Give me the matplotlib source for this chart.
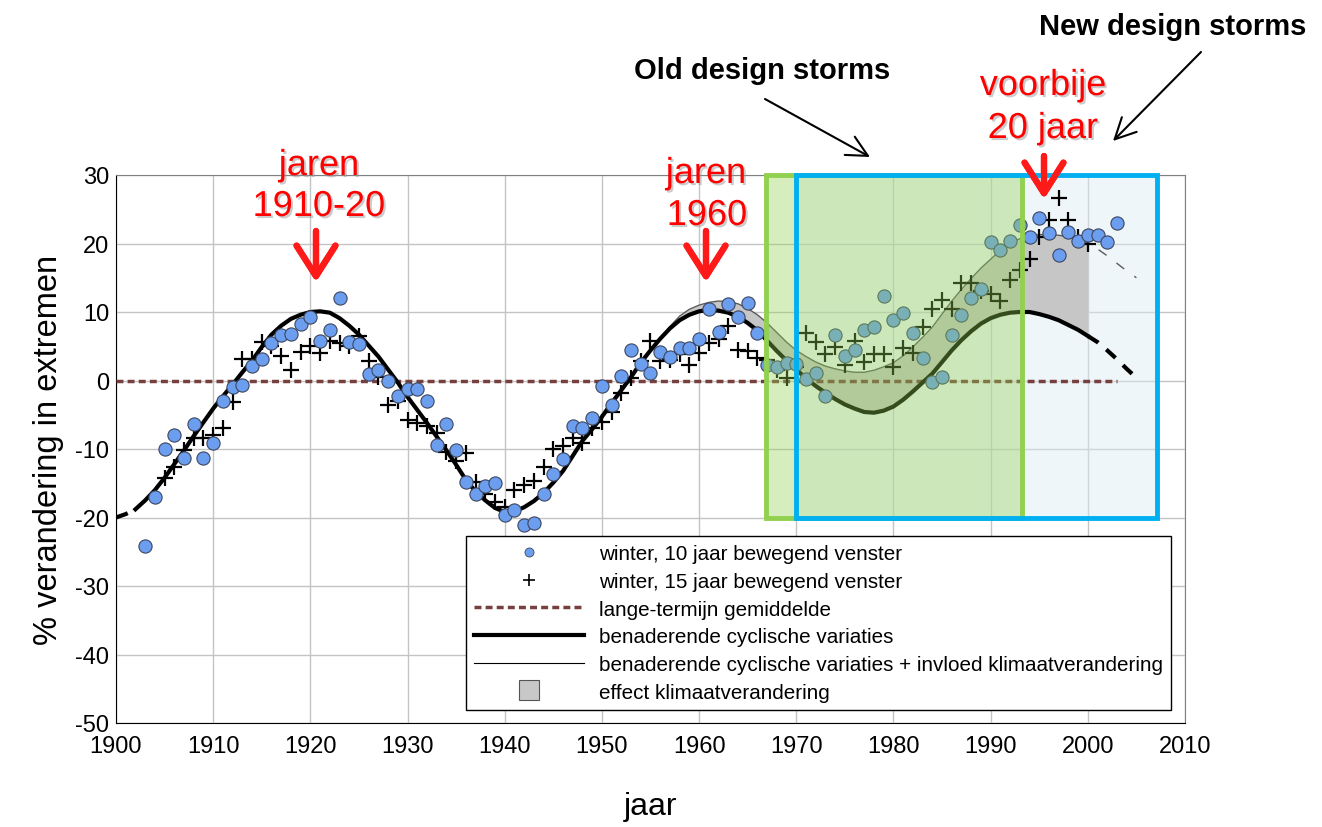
import matplotlib.pyplot as plt
import matplotlib.patheffects as pe
from matplotlib.lines import Line2D
from matplotlib.patches import Rectangle
import numpy as np

plt.rcParams['font.family'] = ['Liberation Sans', 'DejaVu Sans']
plt.rcParams['axes.unicode_minus'] = False

W, H = 1322, 828

# winter, 10 jaar bewegend venster (1903-2003)
jaar10 = np.arange(1903, 2004)
winter10 = [-24.2, -17.0, -10.0, -7.9, -11.3, -6.4, -11.3, -9.1, -3.0, -0.9,
            -0.7, 2.1, 3.2, 5.5, 6.7, 6.8, 8.3, 9.2, 5.8, 7.4,
            12.1, 5.6, 5.4, 0.9, 1.6, -0.1, -2.2, -1.2, -1.3, -3.0,
            -9.4, -6.3, -10.2, -14.8, -16.5, -15.4, -14.9, -19.7, -18.9, -21.1,
            -20.8, -16.6, -13.6, -11.5, -6.7, -6.9, -5.5, -0.8, -3.6, 0.6,
            4.5, 2.4, 1.1, 4.1, 3.5, 4.8, 4.7, 6.0, 10.4, 7.1,
            11.1, 9.2, 11.3, 6.9, 2.3, 1.9, 2.6, 2.4, 0.2, 1.1,
            -2.2, 6.6, 3.6, 4.5, 7.3, 7.8, 12.4, 8.8, 9.9, 6.9,
            3.3, -0.2, 0.5, 6.6, 9.6, 12.0, 13.4, 20.2, 19.1, 20.3,
            22.7, 21.0, 23.7, 21.6, 18.3, 21.7, 20.3, 21.2, 21.3, 20.2,
            23.0]

# winter, 15 jaar bewegend venster (1905-2000)
jaar15 = np.arange(1905, 2001)
winter15 = [-14.2, -12.6, -10.2, -8.4, -8.4, -8.0, -7.0, -3.2, 3.1, 3.2,
            5.6, 5.0, 3.6, 1.6, 4.1, 5.0, 4.0, 5.8, 5.5, 5.0,
            6.5, 2.8, 0.5, -3.6, -3.0, -5.8, -6.2, -6.7, -7.7, -10.5,
            -11.8, -10.6, -14.8, -16.6, -17.8, -18.5, -16.0, -15.2, -14.7, -12.6,
            -10.0, -9.6, -8.4, -9.1, -7.0, -6.0, -4.6, -1.8, 0.4, 2.8,
            5.8, 2.9, 3.0, 3.8, 2.3, 4.0, 5.5, 6.0, 7.9, 4.5,
            4.3, 3.3, 3.0, 1.5, 0.4, 2.0, 6.9, 5.6, 3.9, 4.9,
            2.3, 5.7, 2.7, 3.8, 3.8, 2.0, 4.8, 4.0, 7.8, 10.5,
            11.7, 10.5, 14.2, 14.2, 13.0, 12.7, 11.6, 14.6, 16.2, 17.7,
            21.0, 23.4, 26.6, 23.5, 21.0, 19.9]

# benaderende cyclische variaties (1900-2005)
cyc_jaar = np.arange(1900, 2006)
cyclisch = np.array([
    -20.0, -19.5, -18.8, -17.5, -16.0, -14.2, -12.2, -10.2, -8.1, -6.1,
    -4.1, -2.3, -0.6, 1.2, 2.9, 4.9, 6.7, 8.0, 9.0, 9.6,
    10.0, 10.1, 9.9, 9.1, 8.0, 6.7, 5.1, 3.5, 1.6, -0.3,
    -2.4, -4.3, -6.2, -8.2, -10.2, -12.3, -14.5, -16.2, -17.5, -18.6,
    -19.2, -19.1, -18.5, -17.6, -16.4, -14.9, -13.2, -11.0, -8.8, -7.1,
    -5.3, -3.3, -1.4, 0.5, 2.6, 4.4, 6.1, 7.6, 8.8, 9.6,
    10.1, 10.3, 10.2, 9.9, 9.3, 8.4, 7.3, 5.8, 4.3, 2.9,
    1.6, 0.3, -0.8, -1.8, -2.7, -3.5, -4.1, -4.6, -4.7, -4.4,
    -3.8, -2.8, -1.6, -0.3, 1.0, 2.7, 4.4, 5.9, 7.2, 8.3,
    9.1, 9.6, 9.9, 10.0, 10.0, 9.7, 9.3, 8.8, 8.1, 7.4,
    6.5, 5.6, 4.4, 3.1, 1.7, 0.4])

# cyclische variaties + invloed klimaatverandering (1956-2005)
kl_jaar = np.arange(1956, 2006)
klimaat = np.array([
    6.1, 7.9, 9.4, 10.4, 11.0, 11.4, 11.6, 11.5, 11.2, 10.5,
    9.6, 8.4, 7.0, 5.6, 4.4, 3.5, 2.7, 2.1, 1.7, 1.4,
    1.2, 1.2, 1.5, 2.0, 2.6, 3.6, 4.9, 6.3, 7.8, 9.7,
    11.6, 13.3, 14.9, 16.4, 17.7, 19.0, 20.0, 20.7, 21.1, 21.3,
    21.3, 21.2, 21.0, 20.6, 20.0, 19.2, 18.2, 17.1, 16.0, 15.0])

fig = plt.figure(figsize=(W / 100, H / 100), dpi=100)
ax = fig.add_axes([116 / W, 1 - 724 / H, 1069 / W, 548 / H])

ax.set_xlim(1900, 2010)
ax.set_ylim(-50, 30)
ax.set_xticks(np.arange(1900, 2011, 10))
ax.set_yticks(np.arange(-50, 31, 10))
ax.grid(color='#c4c4c4', lw=1)
ax.set_axisbelow(True)
ax.tick_params(length=0, labelsize=17)
ax.tick_params(axis='x', pad=9)
ax.tick_params(axis='y', pad=5)
for s in ax.spines.values():
    s.set_color('#808080')
ax.spines['left'].set_color('black')
ax.spines['bottom'].set_color('black')

# blauw kader (nieuwe ontwerpstormen)
ax.add_patch(Rectangle((1970, -20), 37.1, 50, facecolor='#dcecf3', alpha=0.45,
                       edgecolor='none', zorder=1))

# effect klimaatverandering
lo = cyclisch[cyc_jaar >= 1956]
band = kl_jaar <= 2000
ax.fill_between(kl_jaar[band], lo[band], klimaat[band], color='#c6c6c6',
                lw=0, zorder=2)

# lange-termijn gemiddelde
ax.plot([1900, 2003], [0, 0], color='#77403f', lw=2.5, ls=(0, (2.0, 1.2)),
        zorder=3)

# cyclische variaties: doorgetrokken + gestippelde uiteinden
sol = (cyc_jaar >= 1902) & (cyc_jaar <= 2000)
ax.plot(cyc_jaar[sol], cyclisch[sol], color='black', lw=3, zorder=3.5)
ax.plot(cyc_jaar[cyc_jaar <= 1902], cyclisch[cyc_jaar <= 1902], color='black',
        lw=3, ls=(0, (3, 2.5)), zorder=3.5)
ax.plot(cyc_jaar[cyc_jaar >= 2000], cyclisch[cyc_jaar >= 2000], color='black',
        lw=3, ls=(0, (3, 2.5)), zorder=3.5)

ax.plot(kl_jaar[band], klimaat[band], color='#5a5a5a', lw=1, zorder=3.4)
ax.plot(kl_jaar[kl_jaar >= 2000], klimaat[kl_jaar >= 2000], color='#5a5a5a',
        lw=1, ls=(7, (7, 9)), zorder=3.4)

# meetpunten
ax.plot(jaar15, winter15, ls='none', marker='+', ms=11, mew=1.6,
        color='black', zorder=4)
ax.plot(jaar10, winter10, ls='none', marker='o', ms=9.5, mfc='#6c9ef0',
        mec='#3c4660', mew=0.8, zorder=4.5)

# groen kader (oude ontwerpstormen)
ax.add_patch(Rectangle((1966.9, -20), 26.3, 50, facecolor='#92d050',
                       alpha=0.37, edgecolor='none', zorder=5))
ax.add_patch(Rectangle((1966.9, -20), 26.3, 50, facecolor='none',
                       edgecolor='#92d050', lw=3.5, zorder=6, clip_on=False))
ax.add_patch(Rectangle((1970, -20), 37.1, 50, facecolor='none',
                       edgecolor='#00b0f0', lw=3.5, zorder=6.5, clip_on=False))

ax.set_xlabel('jaar', fontsize=23, labelpad=24)
ax.set_ylabel('% verandering in extremen', fontsize=23.5, labelpad=8)

handles = [
    Line2D([], [], ls='none', marker='o', ms=6.5, mfc='#6c9ef0', mec='#3c4660', mew=0.6),
    Line2D([], [], ls='none', marker='+', ms=8, mew=1.2, color='black'),
    Line2D([], [], color='#77403f', lw=2.5, ls=(0, (2.0, 1.2))),
    Line2D([], [], color='black', lw=3),
    Line2D([], [], color='black', lw=0.8),
    Line2D([], [], ls='none', marker='s', ms=14, mfc='#c8c8c8', mec='#555555', mew=0.8),
]
labels = ['winter, 10 jaar bewegend venster',
          'winter, 15 jaar bewegend venster',
          'lange-termijn gemiddelde',
          'benaderende cyclische variaties',
          'benaderende cyclische variaties + invloed klimaatverandering',
          'effect klimaatverandering']
leg = ax.legend(handles, labels, loc='upper left', fontsize=14.9,
                bbox_to_anchor=(466 / W, 1 - 537 / H), bbox_transform=fig.transFigure,
                borderaxespad=0, handlelength=5.3, handletextpad=0.72,
                labelspacing=0.42, borderpad=0.4, fancybox=False,
                framealpha=1, edgecolor='black')
leg.get_frame().set_linewidth(1)
leg.set_zorder(10)


def fx(x):
    return x / W


def fy(y):
    return 1 - y / H


# rode opmerkingen met schaduw
schaduw = [pe.SimplePatchShadow(offset=(1.5, -1.5), shadow_rgbFace='#999999', alpha=0.5),
           pe.Normal()]
rood = [('jaren', 319, 176), ('1910-20', 319, 217),
        ('jaren', 706, 184), ('1960', 707, 226),
        ('voorbije', 1043, 96), ('20 jaar', 1043, 139)]
for t, x, y in rood:
    fig.text(fx(x), fy(y), t, color='#ff0000', fontsize=26, ha='center',
             va='baseline', path_effects=schaduw)

pijl = dict(arrowstyle='->, head_length=0.55, head_width=0.35', color='#ff1a1a',
            lw=4.5, mutation_scale=40, shrinkA=0, shrinkB=0)
for x, y0, y1 in [(316, 232, 283), (706, 232, 283), (1044, 157, 200)]:
    fig.add_artist(plt.annotate('', xy=(x, H - y1), xycoords='figure pixels',
                                xytext=(x, H - y0), textcoords='figure pixels',
                                arrowprops=pijl))

fig.text(fx(762), fy(79), 'Old design storms', fontsize=21, fontweight='bold',
         ha='center', va='baseline')
fig.text(fx(1173), fy(35), 'New design storms', fontsize=21, fontweight='bold',
         ha='center', va='baseline')

zwart = dict(arrowstyle='->, head_length=0.5, head_width=0.25', color='black',
             lw=1.5, mutation_scale=30, shrinkA=0, shrinkB=0)
ax.annotate('', xy=(870, H - 158), xycoords='figure pixels',
            xytext=(765, H - 100), textcoords='figure pixels', arrowprops=zwart)
ax.annotate('', xy=(1113, H - 142), xycoords='figure pixels',
            xytext=(1201, H - 53), textcoords='figure pixels', arrowprops=zwart)

fig.savefig('out.png', dpi=100)
